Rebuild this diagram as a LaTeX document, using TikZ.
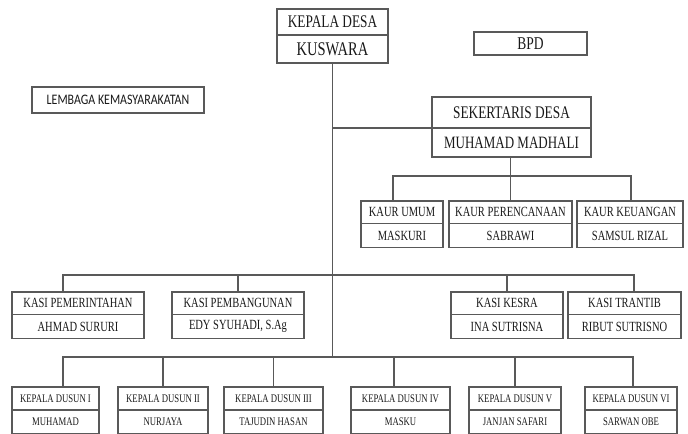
\documentclass[tikz,border=0pt]{standalone}
\usepackage{fontspec}
\newfontfamily\orgfont[FakeStretch=0.75]{Liberation Serif}
\newfontfamily\lkmfont[FakeStretch=0.82]{Carlito}
\usepackage{tikz}
\usetikzlibrary{positioning}

\begin{document}
\begin{tikzpicture}[
                x=0.75pt, y=-0.75pt,
                unit/.style={draw=black!65, line width=0.8pt, inner sep=0pt, outer sep=0pt, text=black!90},
                headpos/.style={unit, minimum height=19.5pt, font=\orgfont\fontsize{13.3}{15}\selectfont},
                headname/.style={unit, minimum height=21pt, font=\orgfont\fontsize{14.5}{16}\selectfont},
                sekpos/.style={unit, minimum height=23.25pt, font=\orgfont\fontsize{13.3}{15}\selectfont},
                sekname/.style={unit, minimum height=21.75pt, font=\orgfont\fontsize{13}{15}\selectfont},
                staffpos/.style={unit, minimum height=17pt, font=\orgfont\fontsize{10.5}{12}\selectfont},
                staffname/.style={unit, minimum height=17.75pt, font=\orgfont\fontsize{10.5}{12}\selectfont},
                duspos/.style={unit, minimum height=17.25pt, font=\orgfont\fontsize{8.7}{10}\selectfont},
                dusname/.style={unit, minimum height=18pt, font=\orgfont\fontsize{8.7}{10}\selectfont},
                link/.style={draw=black!65, line width=0.8pt}
            ]
                \useasboundingbox (0,0) rectangle (688,433);
                \clip (0,0) rectangle (688,433);

                % Kepala desa, BPD, lembaga
                \node[headpos, anchor=north west, minimum width=83.25pt] (kades) at (277,9) {KEPALA DESA};
                \node[headname, below=0pt of kades, minimum width=83.25pt] (kadesN) {KUSWARA};
                \node[unit, anchor=north west, minimum width=84.75pt, minimum height=17.25pt,
                      font=\orgfont\fontsize{13.5}{15}\selectfont] (bpd) at (474,32) {BPD};
                \node[unit, anchor=north west, minimum width=129pt, minimum height=19.5pt,
                      font=\lkmfont\fontsize{10.9}{12}\selectfont] (lkm) at (32,87) {LEMBAGA KEMASYARAKATAN};

                % Sekretaris desa
                \node[sekpos, anchor=north west, minimum width=119.25pt] (sekdes) at (432,97) {SEKERTARIS DESA};
                \node[sekname, below=0pt of sekdes, minimum width=119.25pt] (sekdesN) {MUHAMAD MADHALI};

                % Kaur
                \node[staffpos, anchor=north west, minimum width=61.5pt] (kaur1) at (361,201) {KAUR UMUM};
                \node[staffname, below=0pt of kaur1, minimum width=61.5pt] (kaur1N) {MASKURI};
                \node[staffpos, anchor=north west, minimum width=92.25pt] (kaur2) at (449,201) {KAUR PERENCANAAN};
                \node[staffname, below=0pt of kaur2, minimum width=92.25pt] (kaur2N) {SABRAWI};
                \node[staffpos, anchor=north west, minimum width=79.5pt] (kaur3) at (577,201) {KAUR KEUANGAN};
                \node[staffname, below=0pt of kaur3, minimum width=79.5pt] (kaur3N) {SAMSUL RIZAL};

                % Kasi
                \node[staffpos, anchor=north west, minimum width=99pt] (kasi1) at (12,292) {KASI PEMERINTAHAN};
                \node[staffname, below=0pt of kasi1, minimum width=99pt] (kasi1N) {AHMAD SURURI};
                \node[staffpos, anchor=north west, minimum width=99pt] (kasi2) at (172,292) {KASI PEMBANGUNAN};
                \node[staffname, below=0pt of kasi2, minimum width=99pt] (kasi2N) {EDY SYUHADI, S.Ag};
                \node[staffpos, anchor=north west, minimum width=84pt] (kasi3) at (451,292) {KASI KESRA};
                \node[staffname, below=0pt of kasi3, minimum width=84pt] (kasi3N) {INA SUTRISNA};
                \node[staffpos, anchor=north west, minimum width=84.75pt] (kasi4) at (568,292) {KASI TRANTIB};
                \node[staffname, below=0pt of kasi4, minimum width=84.75pt] (kasi4N) {RIBUT SUTRISNO};

                % Kepala dusun
                \node[duspos, anchor=north west, minimum width=65.25pt] (dus1) at (12,387) {KEPALA DUSUN I};
                \node[dusname, below=0pt of dus1, minimum width=65.25pt] (dus1N) {MUHAMAD};
                \node[duspos, anchor=north west, minimum width=67.5pt] (dus2) at (118,387) {KEPALA DUSUN II};
                \node[dusname, below=0pt of dus2, minimum width=67.5pt] (dus2N) {NURJAYA};
                \node[duspos, anchor=north west, minimum width=74.25pt] (dus3) at (224,387) {KEPALA DUSUN III};
                \node[dusname, below=0pt of dus3, minimum width=74.25pt] (dus3N) {TAJUDIN HASAN};
                \node[duspos, anchor=north west, minimum width=74.25pt] (dus4) at (351,387) {KEPALA DUSUN IV};
                \node[dusname, below=0pt of dus4, minimum width=74.25pt] (dus4N) {MASKU};
                \node[duspos, anchor=north west, minimum width=69pt] (dus5) at (469,387) {KEPALA DUSUN V};
                \node[dusname, below=0pt of dus5, minimum width=69pt] (dus5N) {JANJAN SAFARI};
                \node[duspos, anchor=north west, minimum width=69pt] (dus6) at (585,387) {KEPALA DUSUN VI};
                \node[dusname, below=0pt of dus6, minimum width=69pt] (dus6N) {SARWAN OBE};

                % Bus ends
                \coordinate (kaurL) at (393,176);
                \coordinate (kaurR) at (631,176);
                \coordinate (kasiL) at (63,275);
                \coordinate (kasiR) at (634,275);
                \coordinate (dusL) at (63,357);
                \coordinate (dusR) at (633,357);

                % Lines
                \draw[link] (kadesN.south) -- (kadesN.south |- dusL);
                \draw[link] (kadesN.south |- sekdes.south west) -- (sekdes.south west);
                \draw[link] (kaur2.north |- sekdesN.south) -- (kaur2.north);
                \draw[link] (kaurL |- kaur1.north) -- (kaurL) -- (kaurR) -- (kaurR |- kaur3.north);
                \draw[link] (kasiL |- kasi1.north) -- (kasiL) -- (kasiR) -- (kasiR |- kasi4.north);
                \draw[link] (kasi2.north |- kasiL) -- (kasi2.north);
                \draw[link] (kasi3.north |- kasiL) -- (kasi3.north);
                \draw[link] (dusL |- dus1.north) -- (dusL) -- (dusR) -- (dusR |- dus6.north);
                \draw[link] (dus2.north |- dusL) -- (dus2.north);
                \draw[link] (dus3.north |- dusL) -- (dus3.north);
                \draw[link] ([xshift=-4.9pt]dus4.north |- dusL) -- ([xshift=-4.9pt]dus4.north);
                \draw[link] (dus5.north |- dusL) -- (dus5.north);
            \end{tikzpicture}
\end{document}
